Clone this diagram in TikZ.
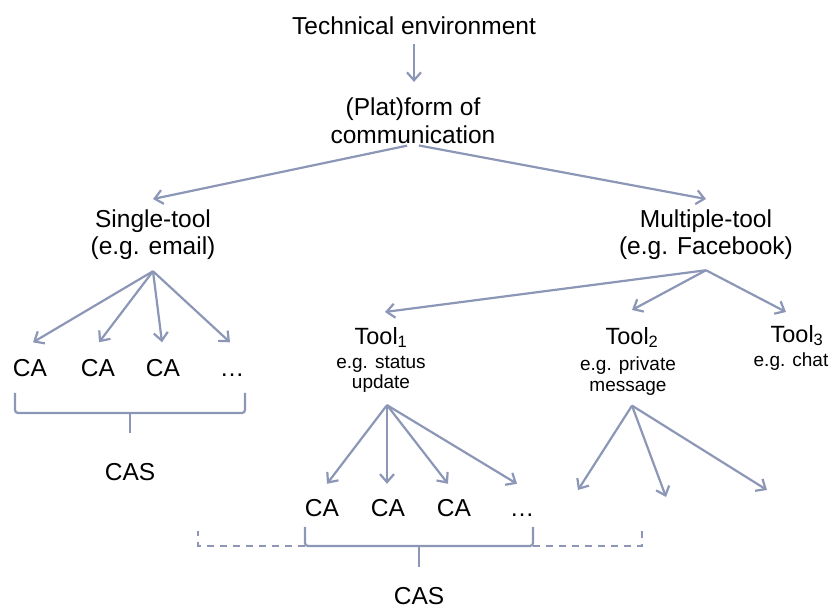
\documentclass[tikz,border=0pt]{standalone}
\usepackage{fontspec}
\setmainfont{Liberation Sans}
\usetikzlibrary{arrows.meta}
\definecolor{ln}{RGB}{140,150,182}
\begin{document}
\begin{tikzpicture}[x=1pt,y=-1pt,
  lbl/.style={inner sep=0pt,align=center,anchor=north,font=\fontsize{24.5}{27}\selectfont},
  tool/.style={inner sep=0pt,anchor=north,font=\fontsize{23.5}{25}\selectfont},
  subl/.style={inner sep=0pt,align=center,anchor=north,font=\fontsize{19}{20.5}\selectfont},
  ca/.style={inner sep=0pt,anchor=base,text height=17.5pt,text depth=0pt,font=\fontsize{24.5}{27}\selectfont},
  arr/.style={draw=ln,line width=2.2pt,-{Straight Barb[length=8pt,width=14pt]}},
  brace/.style={draw=ln,line width=2.2pt,rounded corners=3pt},
  dsh/.style={draw=ln,line width=2pt,dash pattern=on 7pt off 6pt}]
\useasboundingbox (0,0) rectangle (831,609);

% labels
\node[lbl] (te) at (414,17) {Technical environment};
\node[lbl,font=\fontsize{24.5}{28}\selectfont] (pf) at (413,98) {(Plat)form of\\communication};
\node[lbl] (st) at (153,210) {Single-tool\\(e.g. email)};
\node[lbl] (mt) at (706,210) {Multiple-tool\\(e.g. Facebook)};

\node[tool] (t1) at (381,327) {Tool\textsubscript{1}};
\node[subl] (t1d) at (381,356) {e.g. status\\update};
\node[tool] (t2) at (632,327) {Tool\textsubscript{2}};
\node[subl] (t2d) at (628,357) {e.g. private\\message};
\node[tool] (t3) at (797,325) {Tool\textsubscript{3}};
\node[subl] (t3d) at (791,353) {e.g. chat};

% CA rows
\node[ca] (ca1) at (30,377) {CA};
\node[ca] (ca2) at (98,377) {CA};
\node[ca] (ca3) at (163,377) {CA};
\node[ca] (ca4) at (232,377) {…};
\node[ca] (cas1) at (130,480.5) {CAS};

\node[ca] (ca5) at (322,516.5) {CA};
\node[ca] (ca6) at (388,516.5) {CA};
\node[ca] (ca7) at (454,516.5) {CA};
\node[ca] (ca8) at (522,516.5) {…};
\node[ca] (cas2) at (419,605) {CAS};

% free ends
\coordinate (f1) at (578,490);
\coordinate (f2) at (666,497);
\coordinate (f3) at (767,490);

% arrows
\draw[arr,shorten <=9pt,shorten >=16pt] (te.south) -- (te.south |- pf.north);
\draw[arr,shorten <=6pt] (pf.south) -- ([yshift=11pt]st.north);
\draw[arr,shorten <=6pt] (pf.south) -- ([yshift=11pt]mt.north);

\foreach \n/\dx in {ca1/3,ca2/1,ca3/-1,ca4/-2}
  \draw[arr] ([yshift=-11pt]st.south) -- ([xshift=\dx pt,yshift=17pt]\n.north);

\draw[arr] ([yshift=-10pt]mt.south) -- ([xshift=4pt,yshift=15pt]t1.north);
\draw[arr] ([yshift=-10pt]mt.south) -- ([yshift=17pt]t2.north);
\draw[arr] ([yshift=-10pt]mt.south) -- ([xshift=-11pt,yshift=13pt]t3.north);

\foreach \n/\dx in {ca5/5,ca6/-1,ca7/-6,ca8/-5}
  \draw[arr] ([xshift=6pt,yshift=-12pt]t1d.south) -- ([xshift=\dx pt,yshift=15pt]\n.north);

\foreach \n in {f1,f2,f3}
  \draw[arr] ([xshift=4pt,yshift=-10pt]t2d.south) -- (\n);

% braces
\draw[brace] (15,393) -- (15,413) -- (245,413) -- (245,393);
\draw[brace] (130,413) -- (130,433);
\draw[brace] (305,527) -- (305,546) -- (533,546) -- (533,527);
\draw[brace] (419,546) -- (419,567);
\draw[dsh] (305,546) -- (198,546) -- (198,531);
\draw[dsh] (533,546) -- (642,546) -- (642,527);
\end{tikzpicture}
\end{document}
